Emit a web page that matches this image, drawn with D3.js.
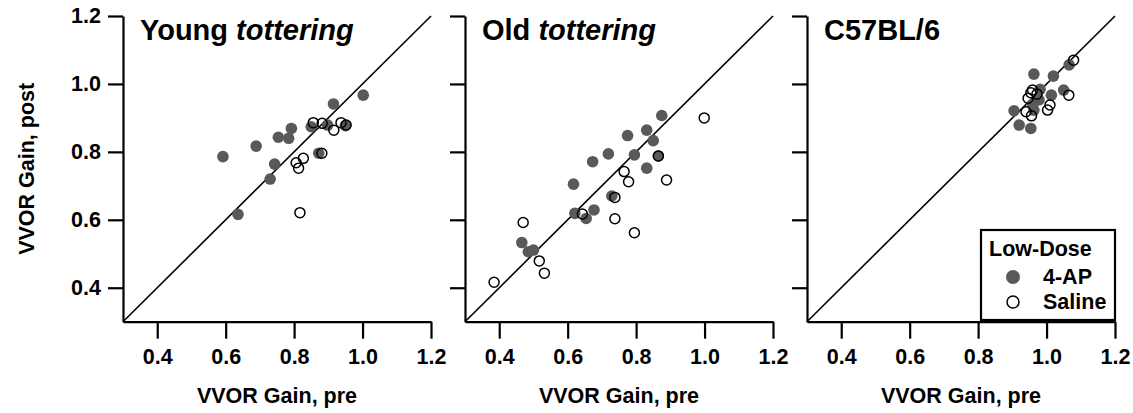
<!DOCTYPE html>
<html>
<head>
<meta charset="utf-8">
<script src="https://cdn.jsdelivr.net/npm/d3@7"></script>
<style>
  html, body { margin: 0; padding: 0; background: #fff; }
  svg { display: block; }
  text { font-family: "Liberation Sans", Arial, sans-serif; font-weight: bold; fill: #000; }
</style>
</head>
<body>
<svg id="chart" width="1133" height="413"></svg>
<script>
// ---- data ----
const panelTitles = ["Young", "Old", "C57BL/6"];
const panelTitlesItalic = ["tottering", "tottering", ""];
const tickValues = [0.4, 0.6, 0.8, 1.0, 1.2];
const tickLabels = ["0.4", "0.6", "0.8", "1.0", "1.2"];
const legendTitle = "Low-Dose";
const seriesNames = ["4-AP", "Saline"];

// [pre, post]
const youngAP = [[0.592,0.786],[0.636,0.616],[0.689,0.817],[0.730,0.720],[0.743,0.764],[0.754,0.843],[0.784,0.840],[0.792,0.869],[0.850,0.874],[0.872,0.796],[0.898,0.879],[0.915,0.941],[0.950,0.877],[1.002,0.967]];
const youngSaline = [[0.856,0.886],[0.882,0.884],[0.916,0.864],[0.937,0.886],[0.952,0.879],[0.881,0.796],[0.827,0.781],[0.806,0.768],[0.813,0.752],[0.817,0.621]];
const oldAP = [[0.466,0.533],[0.485,0.506],[0.500,0.511],[0.617,0.705],[0.621,0.619],[0.654,0.604],[0.677,0.629],[0.673,0.771],[0.719,0.794],[0.729,0.670],[0.775,0.848],[0.795,0.791],[0.831,0.752],[0.831,0.864],[0.850,0.833],[0.865,0.788],[0.875,0.907]];
const oldSaline = [[0.385,0.416],[0.470,0.592],[0.517,0.479],[0.532,0.443],[0.643,0.617],[0.738,0.603],[0.738,0.666],[0.765,0.742],[0.778,0.712],[0.795,0.562],[0.865,0.788],[0.889,0.717],[0.999,0.900]];
const c57AP = [[1.066,1.056],[0.963,1.029],[1.020,1.023],[1.050,0.982],[1.014,0.967],[0.981,0.984],[0.978,0.953],[0.963,0.923],[0.905,0.921],[0.920,0.879],[0.954,0.869],[0.959,0.940]];
const c57Saline = [[1.079,1.070],[1.065,0.967],[0.959,0.982],[0.954,0.974],[0.972,0.970],[0.946,0.958],[1.010,0.938],[1.003,0.923],[0.940,0.918],[0.956,0.906]];

const apSets = [youngAP, oldAP, c57AP];
const salineSets = [youngSaline, oldSaline, c57Saline];
const domain = [0.3, 1.2];

// ---- layout ----
const svg = d3.select("#chart");
const panelLefts = [123, 465, 807];
const panelW = 308;
const plotTop = 16, plotBottom = 321.7;
const apColor = "#595959";
const fontSize = 21.5;

const y = d3.scaleLinear().domain(domain).range([plotBottom, plotTop]);

panelLefts.forEach((left, i) => {
  const x = d3.scaleLinear().domain(domain).range([left, left + panelW]);
  const g = svg.append("g");

  // diagonal identity line
  g.append("line")
    .attr("x1", x(domain[0])).attr("y1", y(domain[0]))
    .attr("x2", x(domain[1])).attr("y2", y(domain[1]))
    .attr("stroke", "#000").attr("stroke-width", 1.6);

  // x axis
  const xa = g.append("g").attr("transform", `translate(0,${plotBottom})`)
    .call(d3.axisBottom(x).tickValues(tickValues).tickSize(17).tickSizeOuter(0)
      .tickFormat((d, k) => tickLabels[k]));
  xa.attr("font-family", null).attr("font-size", null);
  xa.select(".domain").attr("stroke-width", 2.2);
  xa.selectAll(".tick line").attr("stroke-width", 2.2);
  xa.selectAll(".tick text").attr("font-size", fontSize).attr("dy", 0).attr("y", 42);

  // y axis
  const ya = g.append("g").attr("transform", `translate(${left},0)`)
    .call(d3.axisLeft(y).tickValues(tickValues).tickSize(15).tickSizeOuter(0)
      .tickFormat((d, k) => i === 0 ? tickLabels[k] : ""));
  ya.attr("font-family", null).attr("font-size", null);
  ya.select(".domain").attr("stroke-width", 2.2);
  ya.selectAll(".tick line").attr("stroke-width", 2.2);
  ya.selectAll(".tick text").attr("font-size", fontSize).attr("x", -22);

  // x axis title
  g.append("text")
    .attr("x", x(0.75)).attr("y", 403)
    .attr("text-anchor", "middle").attr("font-size", fontSize)
    .text("VVOR Gain, pre");

  // panel title
  const t = g.append("text").attr("x", left + 17).attr("y", 40).attr("font-size", 29);
  t.append("tspan").text(panelTitles[i]);
  if (panelTitlesItalic[i]) {
    t.append("tspan").attr("font-style", "italic").text(" " + panelTitlesItalic[i]);
  }

  // points: 4-AP filled
  g.selectAll("circle.ap").data(apSets[i]).join("circle")
    .attr("class", "ap")
    .attr("cx", d => x(d[0])).attr("cy", d => y(d[1]))
    .attr("r", 5.8).attr("fill", apColor);
  // Saline open
  g.selectAll("circle.sal").data(salineSets[i]).join("circle")
    .attr("class", "sal")
    .attr("cx", d => x(d[0])).attr("cy", d => y(d[1]))
    .attr("r", 5.0).attr("fill", "none").attr("stroke", "#000").attr("stroke-width", 1.5);
});

// y axis title
svg.append("text")
  .attr("transform", `translate(34,${(plotTop + plotBottom) / 2}) rotate(-90)`)
  .attr("text-anchor", "middle").attr("font-size", fontSize)
  .text("VVOR Gain, post");

// legend
const lg = svg.append("g");
lg.append("rect").attr("x", 981).attr("y", 230).attr("width", 134).attr("height", 90)
  .attr("fill", "#fff").attr("stroke", "#000").attr("stroke-width", 2.2);
lg.append("text").attr("x", 989).attr("y", 256).attr("font-size", fontSize).text(legendTitle);
lg.append("circle").attr("cx", 1013).attr("cy", 277).attr("r", 7).attr("fill", apColor);
lg.append("text").attr("x", 1043).attr("y", 284).attr("font-size", fontSize).text(seriesNames[0]);
lg.append("circle").attr("cx", 1013).attr("cy", 302).attr("r", 6).attr("fill", "#fff")
  .attr("stroke", "#000").attr("stroke-width", 1.5);
lg.append("text").attr("x", 1043).attr("y", 309).attr("font-size", fontSize).text(seriesNames[1]);
</script>
</body>
</html>
